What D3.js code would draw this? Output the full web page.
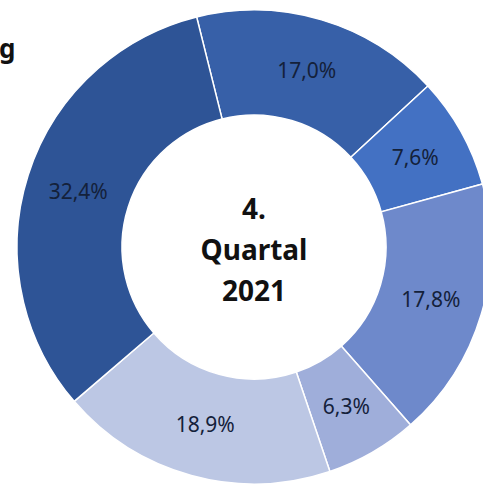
<!DOCTYPE html>
<html>
<head>
<meta charset="utf-8">
<script src="https://cdn.jsdelivr.net/npm/d3@7"></script>
<style>
  body { margin: 0; background: #fff; }
  svg { display: block; }
</style>
</head>
<body>
<div id="chart"></div>
<script>
// data, clockwise starting just left of 12 o'clock
var categories = ["A", "B", "C", "D", "E", "F"];
var values = [17.0, 7.6, 17.8, 6.3, 18.9, 32.4];
var labels = ["17,0%", "7,6%", "17,8%", "6,3%", "18,9%", "32,4%"];
var colors = ["#3760A8", "#4371C3", "#6E89CB", "#9FAEDA", "#BCC7E4", "#2E5496"];
var centerLines = ["4.", "Quartal", "2021"];

var width = 483, height = 486;
var cx = 254, cy = 247;
var outerR = 237, innerR = 132;

var svg = d3.select("#chart")
    .append("svg")
    .attr("width", width)
    .attr("height", height);

// only the last letter of the title is visible at the left edge
svg.append("text")
    .attr("x", -1)
    .attr("y", 58)
    .attr("font-family", "Noto Sans, sans-serif")
    .attr("font-weight", "bold")
    .attr("font-size", 26)
    .attr("fill", "#111")
    .text("g");

var chart = svg.append("g")
    .attr("transform", `translate(${cx}, ${cy})`);

var start = -14 * Math.PI / 180;
var pie = d3.pie()
    .sort(null)
    .value(d => d)
    .startAngle(start)
    .endAngle(start + 2 * Math.PI);

var arc = d3.arc()
    .innerRadius(innerR)
    .outerRadius(outerR);

var arcs = pie(values);

chart.selectAll("path")
    .data(arcs)
    .enter()
    .append("path")
    .attr("d", arc)
    .attr("fill", (d, i) => colors[i])
    .attr("stroke", "#fff")
    .attr("stroke-width", 1.5);

chart.selectAll(".lbl")
    .data(arcs)
    .enter()
    .append("text")
    .attr("class", "lbl")
    .attr("transform", d => `translate(${arc.centroid(d)})`)
    .attr("text-anchor", "middle")
    .attr("dy", "0.36em")
    .attr("font-family", "Noto Sans, sans-serif")
    .attr("font-size", 21)
    .attr("fill", "#14213a")
    .text((d, i) => labels[i]);

// centre text
chart.selectAll(".ctr")
    .data(centerLines)
    .enter()
    .append("text")
    .attr("class", "ctr")
    .attr("x", 0)
    .attr("y", (d, i) => (i - 1) * 41 + 3)
    .attr("dy", "0.36em")
    .attr("text-anchor", "middle")
    .attr("font-family", "Noto Sans, sans-serif")
    .attr("font-weight", "bold")
    .attr("font-size", 28)
    .attr("fill", "#111")
    .text(d => d);
</script>
</body>
</html>
